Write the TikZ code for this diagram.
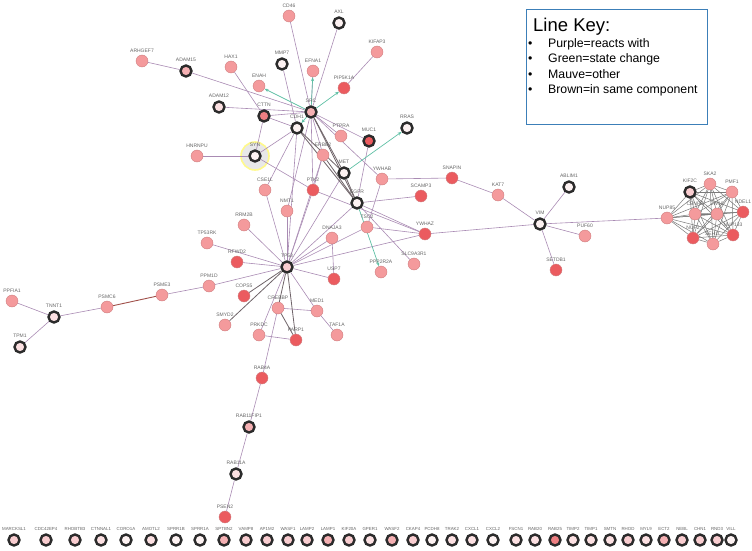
\documentclass[tikz,border=0pt]{standalone}
\usepackage{fontspec}
\setmainfont{Liberation Sans}
\usetikzlibrary{arrows.meta,backgrounds}
\definecolor{NodePink}{HTML}{F49A9C}
\definecolor{NodeRed}{HTML}{EB5B5F}
\definecolor{NodeEdge}{HTML}{CF7E80}
\definecolor{RingDark}{HTML}{2B2B2B}
\definecolor{FillWhite}{HTML}{FDF2F2}
\definecolor{FillLite}{HTML}{FCE0E2}
\definecolor{FillMid}{HTML}{F9CDD0}
\definecolor{FillPink}{HTML}{F5B0B3}
\definecolor{FillRed}{HTML}{EE7F82}
\definecolor{LabelGray}{HTML}{666666}
\definecolor{LinkPurple}{HTML}{A98BB3}
\definecolor{LinkGreen}{HTML}{5FC0A5}
\definecolor{LinkGray}{HTML}{6E6368}
\definecolor{LinkBrown}{HTML}{A0504A}
\definecolor{MeshGray}{HTML}{7A7A7A}
\definecolor{KeyBlue}{HTML}{3C7FB8}

\begin{document}
\begin{tikzpicture}[x=1pt, y=-1pt,
    prot/.style={circle, minimum size=12pt, inner sep=0pt, fill=NodePink,
                 draw=NodeEdge, line width=0.4pt},
    hot/.style={prot, fill=NodeRed},
    ring/.style={circle, minimum size=11pt, inner sep=0pt, draw=RingDark,
                 line width=2.4pt, fill=FillWhite},
    lbl/.style={font=\fontsize{5}{6}\selectfont, text=LabelGray, inner sep=0.6pt},
    lab/.style={label={[lbl, label distance=1.8pt]above:#1}},
    rowlab/.style={label={[lbl, font=\fontsize{4.4}{5}\selectfont,
                   label distance=2pt]above:#1}},
    link/.style={draw=LinkPurple, line width=0.6pt},
    otherlink/.style={draw=LinkGray, line width=0.8pt},
    complink/.style={draw=LinkBrown, line width=0.9pt},
    statelink/.style={-{Stealth[length=4pt,width=3.2pt]}, draw=LinkGreen,
                      line width=0.7pt},
    meshlink/.style={draw=MeshGray, line width=0.5pt},
    keybox/.style={draw=KeyBlue, line width=1.2pt, fill=white,
                   minimum width=181pt, minimum height=115pt, anchor=north west}
]
\useasboundingbox (0,0) rectangle (752,551);

% main network
\node[prot, lab=CD46] (cd46) at (289,16) {};
\node[ring, lab=AXL] (axl) at (339,23) {};
\node[prot, lab=ARHGEF7] (arhgef7) at (142,61) {};
\node[ring, fill=FillPink, lab=ADAM15] (adam15) at (186,71) {};
\node[prot, lab=HAX1] (hax1) at (231,67) {};
\node[ring, lab=MMP7] (mmp7) at (282,64) {};
\node[prot, lab=EFNA1] (efna1) at (313,71) {};
\node[prot, lab=KIFAP3] (kifap3) at (377,52) {};
\node[prot, lab=ENAH] (enah) at (259,86) {};
\node[hot, lab=PIP5K1A] (pip5k1a) at (344,88) {};
\node[ring, fill=FillLite, lab=ADAM12] (adam12) at (219,107) {};
\node[ring, fill=FillRed, lab=CTTN] (cttn) at (264,116) {};
\node[ring, fill=FillPink, lab=SRC] (src) at (311,112) {};
\node[ring, lab=CDH1] (cdh1) at (297,128) {};
\node[prot, lab=PTPRA] (ptpra) at (341,136) {};
\node[ring, fill=NodeRed, lab=MUC1] (muc1) at (369,141) {};
\node[ring, lab=RRAS] (rras) at (407,128) {};
\node[ring, lab=SYN] (syn) at (255,156) {};
\node[prot, lab=HNRNPU] (hnrnpu) at (197,156) {};
\node[prot, lab=ERBB2] (erbb2) at (323,155) {};
\node[ring, lab=MET] (met) at (344,173) {};
\node[prot, lab=YWHAB] (ywhab) at (382,179) {};
\node[hot, lab=SNAPIN] (snapin) at (452,178) {};
\node[hot, lab=SCAMP3] (scamp3) at (421,196) {};
\node[prot, lab=KAT7] (kat7) at (498,195) {};
\node[ring, lab=ABLIM1] (ablim1) at (569,187) {};
\node[prot, lab=CSE1L] (cse1l) at (265,190) {};
\node[hot, lab=PTK2] (ptk2) at (313,190) {};
\node[ring, lab=EGFR] (egfr) at (357,203) {};
\node[prot, lab=NMT1] (nmt1) at (287,211) {};
\node[prot, lab=RRM2B] (rrm2b) at (244,225) {};
\node[ring, lab=VIM] (vim) at (540,224) {};
\node[prot, lab=TSC2] (tsc2) at (367,227) {};
\node[hot, lab=YWHAZ] (ywhaz) at (425,234) {};
\node[prot, lab=PUF60] (puf60) at (585,236) {};
\node[prot, lab=DNAJA3] (dnaja3) at (332,238) {};
\node[prot, lab=TP53RK] (tp53rk) at (207,243) {};
\node[hot, lab=RFWD2] (rfwd2) at (237,262) {};
\node[prot, lab=SLC9A3R1] (slc9a3r1) at (414,264) {};
\node[ring, fill=FillMid, lab=TP53] (tp53) at (287,267) {};
\node[hot, lab=SETDB1] (setdb1) at (556,270) {};
\node[prot, lab=PPP2R2A] (ppp2r2a) at (381,272) {};
\node[hot, lab=USP7] (usp7) at (334,279) {};
\node[prot, lab=PPM1D] (ppm1d) at (209,286) {};
\node[prot, lab=PSME3] (psme3) at (162,295) {};
\node[hot, lab=COPS5] (cops5) at (244,296) {};
\node[prot, lab=PPFIA1] (ppfia1) at (12,301) {};
\node[prot, lab=PSMC6] (psmc6) at (107,307) {};
\node[prot, lab=CREBBP] (crebbp) at (278,308) {};
\node[prot, lab=MED1] (med1) at (317,311) {};
\node[ring, fill=FillLite, lab=TNNT1] (tnnt1) at (54,317) {};
\node[prot, lab=SMYD2] (smyd2) at (225,325) {};
\node[prot, lab=PRKDC] (prkdc) at (259,335) {};
\node[prot, lab=TAF1A] (taf1a) at (337,335) {};
\node[hot, lab=PARP1] (parp1) at (296,340) {};
\node[ring, fill=FillLite, lab=TPM1] (tpm1) at (20,347) {};
\node[hot, lab=RAB4A] (rab4a) at (262,378) {};
\node[ring, fill=FillPink, lab=RAB11FIP1] (rab11fip1) at (249,427) {};
\node[ring, fill=FillLite, lab=RAB11A] (rab11a) at (236,474) {};
\node[hot, lab=PSEN2] (psen2) at (225,517) {};

% kinetochore cluster
\node[ring, fill=FillMid, lab=KIF2C] (kif2c) at (690,192) {};
\node[prot, lab=SKA2] (ska2) at (710,184) {};
\node[prot, lab=PMF1] (pmf1) at (732,192) {};
\node[prot, lab=NUP85] (nup85) at (667,218) {};
\node[prot, lab=CENPF] (cenpf) at (695,214) {};
\node[prot, lab=ZW10] (zw10) at (717,214) {};
\node[hot, lab=NDEL1] (ndel1) at (743,212) {};
\node[hot, lab=NUF2] (nuf2) at (693,238) {};
\node[prot, lab=SEH1L] (seh1l) at (713,244) {};
\node[hot, lab=NUP133] (nup133) at (733,235) {};

% unconnected row
\foreach \x/\gname/\shade in {14/MARCKSL1/FillMid, 46/CDC42EP4/FillMid,
    75/RHOBTB3/FillMid, 101/CTNNAL1/FillLite, 126/CORO1A/FillWhite,
    151/AMOTL2/FillLite, 176/SPRR1B/FillWhite, 200/SPRR1A/FillWhite,
    224/SPTBN2/FillPink, 246/VAMP8/FillMid, 267/AP1M2/FillMid,
    288/WASF1/FillMid, 307/LAMP2/FillMid, 328/LAMP1/FillPink,
    349/KIF20A/FillMid, 370/GPER1/FillLite, 392/WASF2/FillPink,
    413/CKAP4/FillMid, 432/PCDH8/FillWhite, 452/TRAK2/FillLite,
    472/CXCL1/FillLite, 493/CXCL2/FillWhite, 516/FSCN1/FillLite,
    535/RAB20/FillLite, 555/RAB25/FillRed, 573/TIMP2/FillLite,
    591/TIMP1/FillLite, 610/SMTN/FillLite, 628/RHOD/FillMid,
    646/MYL9/FillLite, 664/ECT2/FillPink, 682/NEBL/FillMid,
    700/CHN1/FillMid, 717/RND3/FillMid, 731/VILL/FillWhite}
  \node[ring, fill=\shade, rowlab=\gname] (row\gname) at (\x,540) {};

\begin{scope}[on background layer]
\fill[black!9, draw=yellow!45, line width=1.6pt] (syn) circle (14pt);

\draw[link] (arhgef7) -- (adam15);
\draw[link] (adam15) -- (src);
\draw[link] (hax1) -- (cttn);
\draw[link] (mmp7) -- (cdh1);
\draw[link] (adam12) -- (src);
\draw[link] (cttn) -- (src);
\draw[link] (cttn) -- (cdh1);
\draw[link] (cd46) -- (src);
\draw[link] (axl) -- (src);
\draw[link] (efna1) -- (src);
\draw[link] (pip5k1a) -- (kifap3);
\draw[link] (src) -- (ptpra);
\draw[link] (src) -- (muc1);
\draw[link] (src) -- (erbb2);
\draw[link] (src) -- (ptk2);
\draw[link] (src) -- (ywhab);
\draw[link] (src) -- (nmt1);
\draw[link] (hnrnpu) -- (syn);
\draw[link] (syn) -- (cttn);
\draw[link] (syn) -- (cdh1);
\draw[link] (syn) -- (ptk2);
\draw[link] (cdh1) -- (tp53);
\draw[link] (cdh1) -- (cse1l);
\draw[link] (cse1l) -- (tp53);
\draw[link] (nmt1) -- (tp53);
\draw[link] (rrm2b) -- (tp53);
\draw[link] (tp53rk) -- (tp53);
\draw[link] (ptk2) -- (tp53);
\draw[link] (erbb2) -- (ptk2);
\draw[link] (erbb2) -- (tp53);
\draw[link] (met) -- (tp53);
\draw[link] (egfr) -- (tp53);
\draw[link] (tsc2) -- (tp53);
\draw[link] (dnaja3) -- (tp53);
\draw[link] (dnaja3) -- (usp7);
\draw[link] (tp53) -- (ywhaz);
\draw[link] (ptk2) -- (ywhaz);
\draw[link] (muc1) -- (egfr);
\draw[link] (egfr) -- (scamp3);
\draw[link] (egfr) -- (ywhaz);
\draw[link] (egfr) -- (slc9a3r1);
\draw[link] (ywhab) -- (snapin);
\draw[link] (ywhab) -- (tsc2);
\draw[link] (tsc2) -- (ywhaz);
\draw[link] (ywhaz) -- (vim);
\draw[link] (snapin) -- (kat7);
\draw[link] (kat7) -- (vim);
\draw[link] (vim) -- (ablim1);
\draw[link] (vim) -- (puf60);
\draw[link] (vim) -- (setdb1);
\draw[link] (vim) -- (nup85);
\draw[link] (tp53) -- (rfwd2);
\draw[link] (tp53) -- (usp7);
\draw[link] (tp53) -- (ppm1d);
\draw[link] (ppm1d) -- (psme3);
\draw[link] (psmc6) -- (tnnt1);
\draw[link] (tnnt1) -- (ppfia1);
\draw[link] (tnnt1) -- (tpm1);
\draw[link] (tp53) -- (med1);
\draw[link] (tp53) -- (prkdc);
\draw[link] (crebbp) -- (med1);
\draw[link] (med1) -- (taf1a);
\draw[link] (prkdc) -- (parp1);
\draw[link] (crebbp) -- (rab4a);
\draw[link] (rab4a) -- (rab11fip1);
\draw[link] (rab11fip1) -- (rab11a);
\draw[link] (rab11a) -- (psen2);

\draw[otherlink] (src) -- (met);
\draw[otherlink] (src) -- (egfr);
\draw[otherlink] (cdh1) -- (met);
\draw[otherlink] (cdh1) -- (egfr);
\draw[otherlink] (erbb2) -- (egfr);
\draw[otherlink] (met) -- (egfr);
\draw[otherlink] (tp53) -- (crebbp);
\draw[otherlink] (tp53) -- (parp1);
\draw[otherlink] (tp53) -- (smyd2);
\draw[otherlink] (tp53) -- (cops5);
\draw[otherlink] (crebbp) -- (parp1);
\draw[complink] (psmc6) -- (psme3);

\draw[statelink] (src) -- (enah);
\draw[statelink] (src) -- (efna1);
\draw[statelink] (src) -- (pip5k1a);
\draw[statelink] (src) -- (cdh1);
\draw[statelink] (met) -- (rras);
\draw[statelink] (egfr) -- (ppp2r2a);

\foreach [count=\i] \a in {kif2c,ska2,pmf1,nup85,cenpf,zw10,ndel1,nuf2,seh1l,nup133}{
  \foreach [count=\j] \b in {kif2c,ska2,pmf1,nup85,cenpf,zw10,ndel1,nuf2,seh1l,nup133}{
    \ifnum\j>\i \draw[meshlink] (\a) -- (\b); \fi
  }
}
\end{scope}

% line key
\node[keybox] (key) at (526,9) {};
\node[anchor=base west, inner sep=0pt, font=\fontsize{18.5}{20}\selectfont]
  (keytitle) at (533,32) {Line Key:};
\node[anchor=base west, inner sep=0pt, font=\fontsize{12.3}{14}\selectfont]
  (keyreact) at (528,48) {\makebox[20pt][l]{•}Purple=reacts with};
\node[anchor=base west, inner sep=0pt, font=\fontsize{12.3}{14}\selectfont]
  (keystate) at (528,63) {\makebox[20pt][l]{•}Green=state change};
\node[anchor=base west, inner sep=0pt, font=\fontsize{12.3}{14}\selectfont]
  (keyother) at (528,78) {\makebox[20pt][l]{•}Mauve=other};
\node[anchor=base west, inner sep=0pt, font=\fontsize{12.3}{14}\selectfont]
  (keycomp) at (528,93) {\makebox[20pt][l]{•}Brown=in same component};
\end{tikzpicture}
\end{document}
